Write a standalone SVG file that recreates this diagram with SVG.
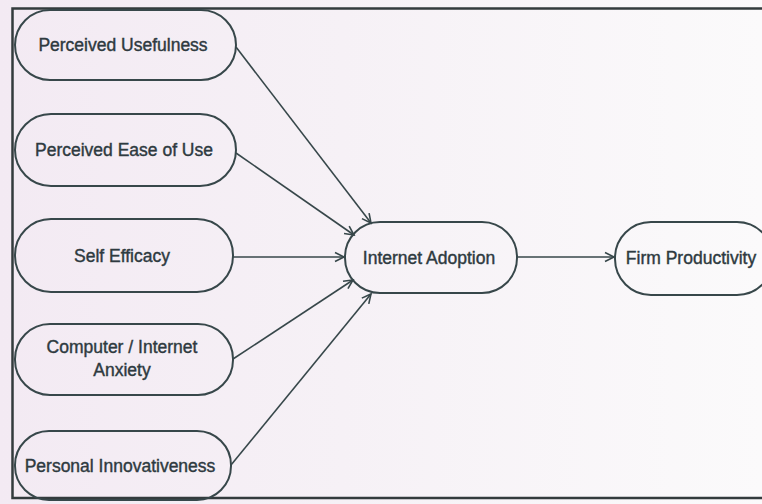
<svg xmlns="http://www.w3.org/2000/svg" width="762" height="504" viewBox="0 0 762 504">
  <defs>
    <linearGradient id="paper" x1="0" y1="0" x2="1" y2="0">
      <stop offset="0" stop-color="#f3eaf3"/>
      <stop offset="0.45" stop-color="#f6f1f6"/>
      <stop offset="1" stop-color="#fbfafb"/>
    </linearGradient>
    <marker id="arrow" markerWidth="12" markerHeight="12" refX="10" refY="6" orient="auto" markerUnits="userSpaceOnUse">
      <path d="M1,1.5 L10,6 L1,10.5" fill="none" stroke="#37474a" stroke-width="1.6"/>
    </marker>
    <style>
      .node rect { fill: none; stroke: #37474a; stroke-width: 2; }
      .node text { font-family: "Liberation Sans", Arial, sans-serif; font-size: 17.5px; fill: #2e3a40; stroke: #2e3a40; stroke-width: 0.4; text-anchor: middle; }
      .edge { fill: none; stroke: #37474a; stroke-width: 1.6; marker-end: url(#arrow); }
    </style>
  </defs>

  <rect x="0" y="0" width="762" height="504" fill="url(#paper)"/>

  <!-- outer frame -->
  <path d="M770,8.5 L12.5,8.5 L12.5,498 L770,498" fill="none" stroke="#333b3d" stroke-width="2.5"/>

  <!-- connectors -->
  <g id="connectors">
    <line class="edge" x1="236" y1="47" x2="371" y2="223"/>
    <line class="edge" x1="236" y1="153" x2="354" y2="235"/>
    <line class="edge" x1="233" y1="257" x2="344" y2="257"/>
    <line class="edge" x1="233" y1="359" x2="353" y2="280"/>
    <line class="edge" x1="231" y1="465" x2="371" y2="294"/>
    <line class="edge" x1="517" y1="257" x2="614" y2="257"/>
  </g>

  <g id="perceived-usefulness" class="node">
    <rect x="15" y="10" width="221" height="70" rx="35"/>
    <text x="123" y="51">Perceived Usefulness</text>
  </g>

  <g id="perceived-ease-of-use" class="node">
    <rect x="15" y="114" width="221" height="72" rx="36"/>
    <text x="124" y="156">Perceived Ease of Use</text>
  </g>

  <g id="self-efficacy" class="node">
    <rect x="15" y="219" width="218" height="73" rx="36"/>
    <text x="122" y="262">Self Efficacy</text>
  </g>

  <g id="computer-internet-anxiety" class="node">
    <rect x="15" y="324" width="218" height="71" rx="35"/>
    <text x="122" y="353">Computer / Internet</text>
    <text x="122" y="376">Anxiety</text>
  </g>

  <g id="personal-innovativeness" class="node">
    <rect x="15" y="431" width="216" height="69" rx="34"/>
    <text x="120" y="472">Personal Innovativeness</text>
  </g>

  <g id="internet-adoption" class="node">
    <rect x="345" y="222" width="172" height="71" rx="35"/>
    <text x="429" y="264">Internet Adoption</text>
  </g>

  <g id="firm-productivity" class="node">
    <rect x="615" y="222" width="158" height="73" rx="36"/>
    <text x="691" y="264">Firm Productivity</text>
  </g>
</svg>
